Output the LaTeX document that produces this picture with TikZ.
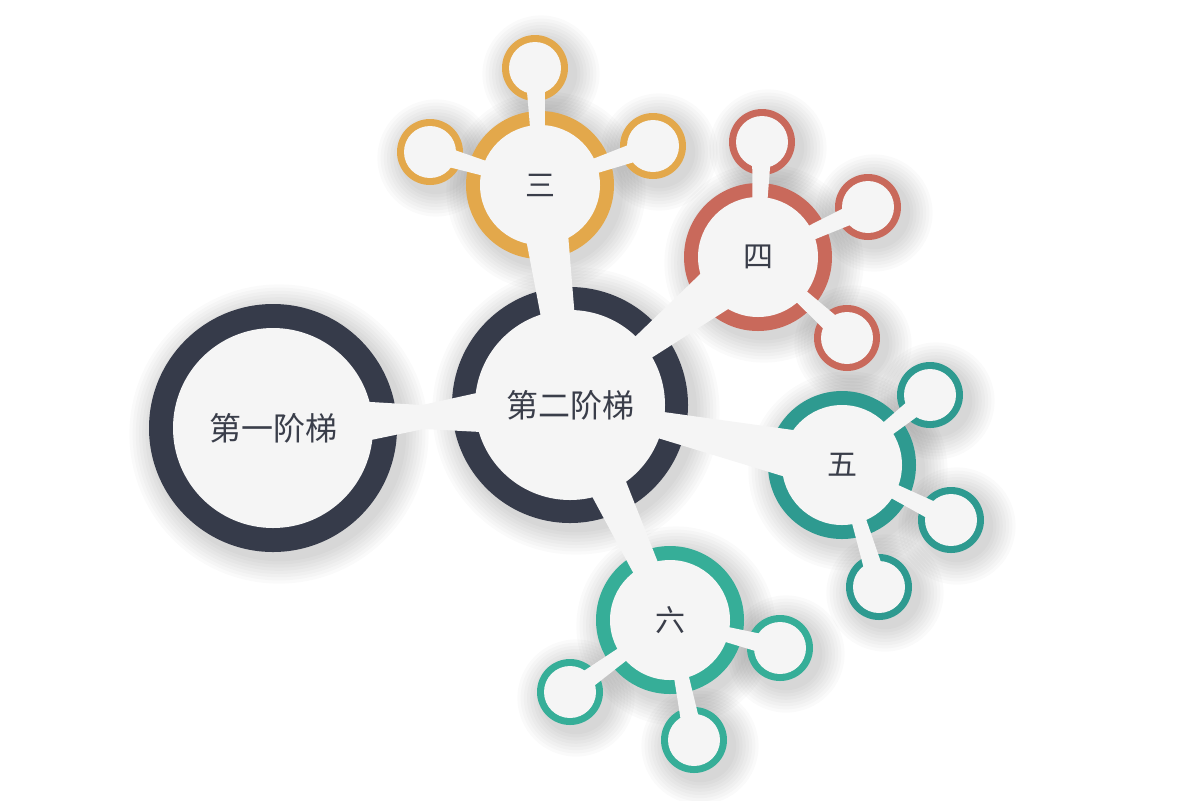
\documentclass[tikz,border=0pt]{standalone}
\usepackage{fontspec}
\newfontfamily\cjk{Noto Sans CJK SC}
\usetikzlibrary{calc}
\definecolor{dk}{HTML}{363B4A}
\definecolor{org}{HTML}{E3A84B}
\definecolor{rd}{HTML}{C9695B}
\definecolor{tl}{HTML}{2E9A90}
\definecolor{tl2}{HTML}{36AE98}
\definecolor{lt}{HTML}{F5F5F5}
\definecolor{txt}{HTML}{3A3E4A}
\tikzset{conn/.style={fill=lt}, lab/.style={font=\cjk, text=txt}}
\newcommand\taper[4]{\fill[conn] ($(#1)!#3!90:(#2)$) -- ($(#2)!#4!-90:(#1)$) -- ($(#2)!#4!90:(#1)$) -- ($(#1)!#3!-90:(#2)$) -- cycle;}
% name x y R r color
\newcommand\shad[4]{\foreach \k in {1,...,8}{\fill[black,opacity=0.018] (#2*0.5pt+3pt,-#3*0.5pt-3pt) circle ({#4*0.5pt+\k*1.6pt});}}
\newcommand\ring[5]{\coordinate (#1) at (#2*0.5pt,-#3*0.5pt); \fill[#5] (#1) circle (#4*0.5pt);}
\newcommand\inner[4]{\fill[lt] (#2*0.5pt,-#3*0.5pt) circle (#4*0.5pt);}
\begin{document}
\begin{tikzpicture}
\fill[white] (0,0) rectangle (600pt,-400pt);
\useasboundingbox (0,0) rectangle (600pt,-400pt);
% shadows
\shad{a}{273}{428}{124}\shad{b}{570}{405}{118}
\shad{c}{540}{185}{74}\shad{d}{758}{257}{74}\shad{e}{842}{465}{74}\shad{f}{670}{620}{74}
\foreach \x/\y in {535/68,430/152,653/146,762/142,868/207,847/338,930/395,951/520,879/587,780/648,570/692,694/740}{\shad{s}{\x}{\y}{33}}
% rings
\ring{a}{273}{428}{124}{dk}\ring{b}{570}{405}{118}{dk}
\ring{c}{540}{185}{74}{org}\ring{d}{758}{257}{74}{rd}\ring{e}{842}{465}{74}{tl}\ring{f}{670}{620}{74}{tl2}
\ring{c1}{535}{68}{33}{org}\ring{c2}{430}{152}{33}{org}\ring{c3}{653}{146}{33}{org}
\ring{d1}{762}{142}{33}{rd}\ring{d2}{868}{207}{33}{rd}\ring{d3}{847}{338}{33}{rd}
\ring{e1}{930}{395}{33}{tl}\ring{e2}{951}{520}{33}{tl}\ring{e3}{879}{587}{33}{tl}
\ring{f1}{780}{648}{33}{tl2}\ring{f2}{570}{692}{33}{tl2}\ring{f3}{694}{740}{33}{tl2}
% connectors
\coordinate (m) at (423*0.5pt,-417*0.5pt);
\taper{a}{m}{16pt}{6pt}\taper{b}{m}{16pt}{6pt}
\taper{c}{b}{12pt}{6pt}\taper{d}{b}{14pt}{2pt}\taper{e}{b}{14pt}{3pt}\taper{b}{f}{12pt}{5pt}
\foreach \h/\s in {c/c1,c/c2,c/c3,d/d1,d/d2,d/d3,e/e1,e/e2,e/e3,f/f1,f/f2,f/f3}{\taper{\h}{\s}{2.5pt}{5pt}}
% inner discs
\inner{a}{273}{428}{100}\inner{b}{570}{405}{95}
\inner{c}{540}{185}{60}\inner{d}{758}{257}{60}\inner{e}{842}{465}{60}\inner{f}{670}{620}{60}
\foreach \x/\y in {535/68,430/152,653/146,762/142,868/207,847/338,930/395,951/520,879/587,780/648,570/692,694/740}{\inner{s}{\x}{\y}{26}}
% labels
\node[lab,font=\cjk\fontsize{16}{18}\selectfont] (ta) at (a) {第一阶梯};
\node[lab,font=\cjk\fontsize{16}{18}\selectfont] (tb) at (b) {第二阶梯};
\node[lab,font=\cjk\fontsize{15}{18}\selectfont] (tc) at (c) {三};
\node[lab,font=\cjk\fontsize{15}{18}\selectfont] (td) at (d) {四};
\node[lab,font=\cjk\fontsize{15}{18}\selectfont] (te) at (e) {五};
\node[lab,font=\cjk\fontsize{15}{18}\selectfont] (tf) at (f) {六};
\end{tikzpicture}
\end{document}
